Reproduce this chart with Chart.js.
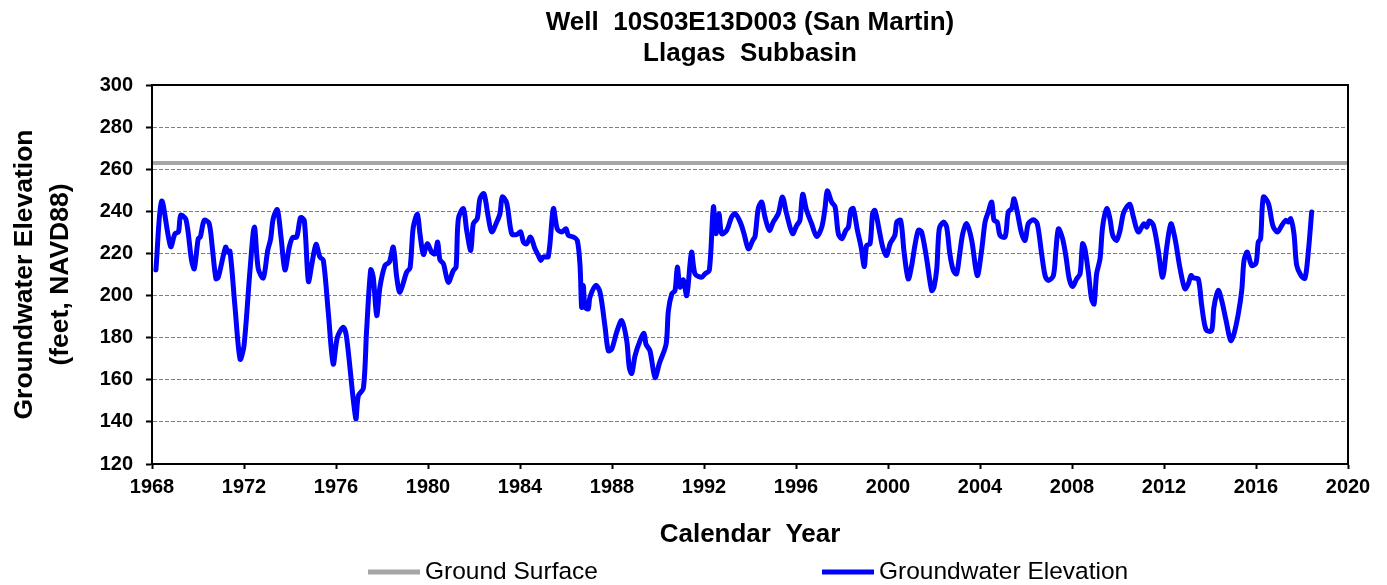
<!DOCTYPE html>
<html>
<head>
<meta charset="utf-8">
<title>Well 10S03E13D003 (San Martin)</title>
<script src="https://cdn.jsdelivr.net/npm/chart.js@4.4.1/dist/chart.umd.min.js"></script>
<style>
  html, body { margin: 0; padding: 0; background: #ffffff; }
  #wrap { width: 1387px; height: 585px; }
</style>
</head>
<body>
<div id="wrap"><canvas id="chart" width="1387" height="585"></canvas></div>
<script>
// Measurement dates (decimal calendar years)
const measurementYears = [
  1968.17, 1968.42, 1968.81, 1969.00, 1969.15, 1969.25, 1969.48, 1969.72, 1969.84, 1970.01,
  1970.10, 1970.27, 1970.48, 1970.62, 1970.78, 1970.88, 1971.20, 1971.29, 1971.39, 1971.61,
  1971.83, 1972.00, 1972.26, 1972.45, 1972.62, 1972.84, 1973.03, 1973.16, 1973.27, 1973.45,
  1973.61, 1973.78, 1973.97, 1974.11, 1974.29, 1974.46, 1974.62, 1974.80, 1974.94, 1975.13,
  1975.30, 1975.45, 1975.67, 1975.88, 1976.06, 1976.32, 1976.46, 1976.86, 1976.97, 1977.19,
  1977.33, 1977.51, 1977.62, 1977.77, 1977.91, 1978.13, 1978.32, 1978.49, 1978.64, 1978.78,
  1979.07, 1979.22, 1979.36, 1979.54, 1979.65, 1979.80, 1979.97, 1980.16, 1980.30, 1980.42,
  1980.52, 1980.67, 1980.88, 1981.10, 1981.22, 1981.32, 1981.54, 1981.68, 1981.86, 1981.97,
  1982.14, 1982.26, 1982.43, 1982.62, 1982.77, 1982.99, 1983.13, 1983.23, 1983.42, 1983.64,
  1983.86, 1984.03, 1984.15, 1984.29, 1984.46, 1984.65, 1984.80, 1984.90, 1985.01, 1985.23,
  1985.45, 1985.62, 1985.81, 1986.00, 1986.10, 1986.32, 1986.49, 1986.61, 1986.68, 1986.75,
  1986.83, 1986.97, 1987.04, 1987.30, 1987.48, 1987.70, 1987.84, 1987.99, 1988.20, 1988.42,
  1988.64, 1988.75, 1988.86, 1989.00, 1989.22, 1989.39, 1989.48, 1989.65, 1989.87, 1990.06,
  1990.35, 1990.45, 1990.60, 1990.74, 1990.84, 1990.96, 1991.10, 1991.25, 1991.46, 1991.61,
  1991.90, 1992.04, 1992.23, 1992.41, 1992.52, 1992.65, 1992.77, 1992.99, 1993.20, 1993.35,
  1993.57, 1993.74, 1993.93, 1994.12, 1994.22, 1994.36, 1994.51, 1994.65, 1994.84, 1995.01,
  1995.23, 1995.41, 1995.59, 1995.85, 1996.03, 1996.17, 1996.29, 1996.46, 1996.68, 1996.90,
  1997.12, 1997.26, 1997.36, 1997.55, 1997.70, 1997.84, 1997.99, 1998.17, 1998.28, 1998.38,
  1998.49, 1998.67, 1998.83, 1998.97, 1999.07, 1999.22, 1999.33, 1999.43, 1999.58, 1999.77,
  1999.94, 2000.09, 2000.30, 2000.38, 2000.55, 2000.70, 2000.88, 2001.03, 2001.17, 2001.32,
  2001.46, 2001.68, 2001.90, 2002.00, 2002.12, 2002.23, 2002.41, 2002.55, 2002.69, 2002.84,
  2002.98, 2003.10, 2003.25, 2003.42, 2003.64, 2003.88, 2004.07, 2004.22, 2004.36, 2004.51,
  2004.61, 2004.75, 2004.87, 2005.09, 2005.23, 2005.38, 2005.48, 2005.62, 2005.81, 2005.96,
  2006.10, 2006.32, 2006.49, 2006.68, 2006.83, 2006.97, 2007.19, 2007.30, 2007.41, 2007.59,
  2007.74, 2007.88, 2008.03, 2008.20, 2008.35, 2008.46, 2008.56, 2008.71, 2008.85, 2008.96,
  2009.07, 2009.22, 2009.33, 2009.51, 2009.65, 2009.77, 2009.94, 2010.09, 2010.23, 2010.38,
  2010.52, 2010.67, 2010.88, 2011.13, 2011.25, 2011.36, 2011.54, 2011.75, 2011.94, 2012.12,
  2012.30, 2012.48, 2012.70, 2012.91, 2013.06, 2013.17, 2013.28, 2013.49, 2013.64, 2013.83,
  2014.07, 2014.17, 2014.36, 2014.51, 2014.70, 2014.90, 2015.04, 2015.23, 2015.38, 2015.48,
  2015.62, 2015.81, 2016.00, 2016.10, 2016.20, 2016.32, 2016.54, 2016.73, 2016.93, 2017.12,
  2017.29, 2017.41, 2017.51, 2017.65, 2017.77, 2017.96, 2018.13, 2018.28, 2018.42
];

// Groundwater elevation (feet, NAVD88) at each measurement date
const groundwaterElevation = [
  212.2, 244.9, 223.3, 229.4, 230.2, 238.1, 236.0, 216.7, 212.7, 227.0,
  227.8, 235.7, 234.4, 223.0, 208.0, 208.7, 223.0, 220.6, 221.1, 194.4,
  169.8, 176.2, 211.9, 232.5, 212.7, 208.4, 221.4, 227.0, 236.5, 240.8,
  227.8, 212.2, 223.0, 227.5, 227.8, 237.0, 235.7, 206.7, 214.3, 224.3,
  218.3, 216.7, 191.3, 167.5, 180.2, 184.9, 180.2, 141.6, 152.4, 156.0,
  183.3, 212.2, 208.7, 190.5, 204.0, 214.3, 215.9, 223.0, 208.7, 201.6,
  211.1, 213.2, 232.5, 238.6, 229.4, 219.5, 224.6, 220.6, 219.8, 225.4,
  217.0, 215.1, 206.3, 211.9, 213.5, 236.5, 241.3, 231.0, 221.4, 234.1,
  236.5, 246.0, 248.4, 237.3, 230.2, 234.9, 238.9, 246.8, 244.0, 229.4,
  229.0, 230.2, 225.4, 224.6, 227.8, 222.2, 219.0, 216.7, 218.3, 218.6,
  241.3, 231.7, 230.2, 231.7, 228.6, 227.8, 226.2, 214.3, 194.4, 204.8,
  194.4, 193.7, 199.2, 204.8, 201.6, 184.9, 173.8, 174.6, 182.5, 188.1,
  178.6, 165.9, 163.0, 171.4, 178.6, 182.1, 176.8, 173.8, 161.1, 167.8,
  176.8, 192.7, 200.8, 202.4, 213.5, 204.0, 207.5, 200.0, 220.6, 210.3,
  208.7, 210.3, 211.9, 242.1, 229.4, 238.9, 229.4, 231.0, 237.3, 238.9,
  235.0, 229.4, 222.2, 226.2, 228.1, 241.3, 244.4, 237.3, 231.0, 234.9,
  238.9, 246.8, 238.9, 229.4, 233.3, 235.7, 248.1, 240.5, 234.1, 228.1,
  232.5, 241.3, 249.7, 244.4, 242.1, 229.4, 227.0, 231.0, 232.5, 240.5,
  241.3, 231.0, 223.0, 213.8, 223.8, 224.6, 238.9, 240.5, 233.3, 223.0,
  219.0, 224.6, 228.6, 234.9, 235.7, 220.6, 207.9, 214.3, 223.8, 231.0,
  230.2, 217.5, 202.4, 204.0, 212.7, 231.7, 234.9, 232.5, 219.8, 211.9,
  210.3, 218.3, 229.4, 234.1, 226.2, 209.5, 221.4, 234.9, 239.7, 244.4,
  235.7, 234.9, 228.6, 227.8, 239.7, 241.3, 246.0, 239.7, 229.4, 226.2,
  234.1, 236.0, 234.1, 219.8, 209.5, 207.1, 209.5, 221.4, 231.7, 227.0,
  218.3, 207.9, 204.3, 207.9, 210.3, 224.6, 222.2, 211.1, 198.4, 196.0,
  210.3, 217.5, 232.5, 241.3, 236.5, 228.6, 226.2, 231.0, 238.9, 242.1,
  243.3, 237.3, 230.2, 234.1, 232.5, 235.4, 233.3, 221.4, 208.7, 223.0,
  234.1, 227.0, 212.7, 203.2, 205.6, 209.5, 208.4, 207.9, 195.2, 183.7,
  183.3, 194.4, 202.4, 197.6, 188.1, 178.6, 181.7, 191.3, 202.4, 216.7,
  220.6, 214.3, 215.4, 225.4, 227.0, 246.8, 243.7, 233.3, 230.2, 233.3,
  235.7, 234.9, 236.5, 229.4, 214.3, 209.5, 208.2, 221.4, 239.7
];

// Ground surface elevation at the well (feet, NAVD88), shown across the full period
const groundSurfaceYears = [1968, 2020];
const groundSurfaceElevation = [263, 263];

// Axis tick values
const yearTicks = [1968, 1972, 1976, 1980, 1984, 1988, 1992, 1996, 2000, 2004, 2008, 2012, 2016, 2020];
const elevationTicks = [120, 140, 160, 180, 200, 220, 240, 260, 280, 300];

// Chart heading lines
const titleLines = ['Well  10S03E13D003 (San Martin)', 'Llagas  Subbasin'];

const FONT = "'Liberation Sans', Arial, Helvetica, sans-serif";

const toPoints = (xs, ys) => xs.map((x, i) => ({ x: x, y: ys[i] }));

// Heading centred over the plotting area
const headingPlugin = {
  id: 'heading',
  afterDraw(chart, args, opts) {
    const { ctx, chartArea: a } = chart;
    const cx = (a.left + a.right) / 2;
    ctx.save();
    ctx.font = opts.font;
    ctx.fillStyle = '#000000';
    ctx.textAlign = 'center';
    ctx.textBaseline = 'middle';
    opts.lines.forEach((line, i) => ctx.fillText(line, cx, opts.firstY + i * opts.lineGap));
    ctx.restore();
  }
};

// Solid frame around the plotting area
const framePlugin = {
  id: 'plotFrame',
  afterDatasetsDraw(chart) {
    const { ctx, chartArea: a } = chart;
    ctx.save();
    ctx.strokeStyle = '#000000';
    ctx.lineWidth = 2;
    ctx.setLineDash([]);
    ctx.strokeRect(a.left, a.top, a.right - a.left, a.bottom - a.top);
    ctx.restore();
  }
};

// Legend row below the axis title: line sample followed by the series name
const bottomLegendPlugin = {
  id: 'bottomLegend',
  afterDraw(chart, args, opts) {
    const ctx = chart.ctx;
    ctx.save();
    ctx.font = opts.font;
    ctx.textBaseline = 'middle';
    ctx.textAlign = 'left';
    chart.data.datasets.forEach((ds, i) => {
      const startX = opts.itemStarts[i];
      ctx.strokeStyle = ds.borderColor;
      ctx.lineWidth = opts.sampleWidth;
      ctx.lineCap = 'butt';
      ctx.beginPath();
      ctx.moveTo(startX, opts.y);
      ctx.lineTo(startX + opts.sampleLength, opts.y);
      ctx.stroke();
      ctx.fillStyle = '#000000';
      ctx.fillText(ds.label, startX + opts.sampleLength + opts.gap, opts.y);
    });
    ctx.restore();
  }
};

new Chart(document.getElementById('chart'), {
  type: 'line',
  data: {
    datasets: [
      {
        label: 'Ground Surface',
        data: toPoints(groundSurfaceYears, groundSurfaceElevation),
        borderColor: '#A6A6A6',
        borderWidth: 4,
        pointRadius: 0,
        tension: 0
      },
      {
        label: 'Groundwater Elevation',
        data: toPoints(measurementYears, groundwaterElevation),
        borderColor: '#0000FF',
        borderWidth: 5,
        pointRadius: 0,
        tension: 0.3,
        borderJoinStyle: 'round',
        borderCapStyle: 'round'
      }
    ]
  },
  options: {
    responsive: false,
    animation: false,
    devicePixelRatio: 1,
    layout: { padding: { left: 0, right: 39, top: 85, bottom: 35 } },
    plugins: {
      legend: { display: false },
      tooltip: { enabled: false },
      title: { display: false },
      heading: {
        lines: titleLines,
        font: 'bold 26px ' + FONT,
        firstY: 23,
        lineGap: 31
      },
      bottomLegend: {
        font: '24.5px ' + FONT,
        y: 572,
        itemStarts: [368, 822],
        sampleLength: 52,
        sampleWidth: 5,
        gap: 5
      }
    },
    scales: {
      x: {
        type: 'linear',
        min: 1968,
        max: 2020,
        afterBuildTicks: (scale) => { scale.ticks = yearTicks.map(v => ({ value: v })); },
        afterFit: (scale) => { scale.height = 86; },
        ticks: {
          color: '#000000',
          font: { family: FONT, size: 20, weight: 'bold' },
          padding: 6,
          maxRotation: 0,
          autoSkip: false,
          callback: (v) => String(v)
        },
        grid: {
          drawOnChartArea: false,
          drawTicks: true,
          tickLength: 5,
          tickColor: '#000000',
          tickWidth: 2
        },
        border: { display: true, color: '#000000', width: 2 },
        title: {
          display: true,
          text: 'Calendar  Year',
          color: '#000000',
          font: { family: FONT, size: 26, weight: 'bold', lineHeight: 1.2 },
          padding: { top: 0, bottom: 0 }
        }
      },
      y: {
        type: 'linear',
        min: 120,
        max: 300,
        afterBuildTicks: (scale) => { scale.ticks = elevationTicks.map(v => ({ value: v })); },
        afterFit: (scale) => { scale.width = 152; },
        ticks: {
          color: '#000000',
          font: { family: FONT, size: 20, weight: 'bold' },
          padding: 13,
          callback: (v) => String(v)
        },
        grid: {
          color: '#808080',
          lineWidth: 1,
          drawTicks: true,
          tickLength: 6,
          tickColor: '#000000',
          tickWidth: 2,
          tickBorderDash: []
        },
        border: { display: true, color: '#000000', width: 2, dash: [4, 2] },
        title: {
          display: true,
          text: ['Groundwater Elevation', '(feet, NAVD88)'],
          color: '#000000',
          font: { family: FONT, size: 26.5, weight: 'bold', lineHeight: 1.35 },
          padding: { top: 7, bottom: 0 }
        }
      }
    }
  },
  plugins: [headingPlugin, framePlugin, bottomLegendPlugin]
});
</script>
</body>
</html>
